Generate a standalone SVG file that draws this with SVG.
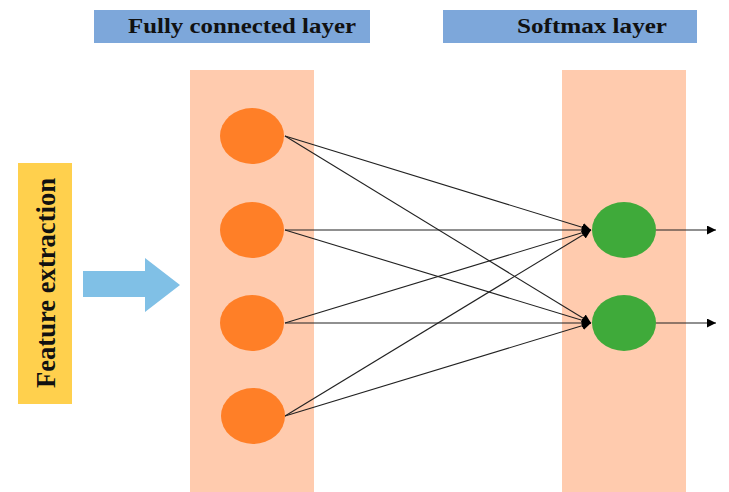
<svg xmlns="http://www.w3.org/2000/svg" width="729" height="492" viewBox="0 0 729 492">
  <style>
    .title { fill: #7DA7DA; }
    .title-text { font-family: "Liberation Serif", "DejaVu Serif", serif; font-weight: bold; font-size: 20px; fill: #111; }
    .column { fill: #FFCBAE; }
    .hidden { fill: #FF7F27; }
    .out { fill: #3FAA3A; }
    .edge { stroke: #222; stroke-width: 1.1; fill: none; marker-end: url(#head); }
  </style>
  <defs>
    <marker id="head" viewBox="0 0 10 10" refX="10" refY="5" markerWidth="9" markerHeight="9" markerUnits="userSpaceOnUse" orient="auto">
      <path d="M0,0 L10,5 L0,10 Z" fill="#000"/>
    </marker>
  </defs>
  <rect width="729" height="492" fill="#fff"/>

  <!-- layer headers -->
  <g id="header-fc">
    <rect class="title" x="94" y="10" width="276" height="33"/>
    <text class="title-text" x="242" y="33" text-anchor="middle" textLength="228" lengthAdjust="spacingAndGlyphs">Fully connected layer</text>
  </g>
  <g id="header-softmax">
    <rect class="title" x="443" y="10" width="254" height="33"/>
    <text class="title-text" x="592" y="33" text-anchor="middle" textLength="150" lengthAdjust="spacingAndGlyphs">Softmax layer</text>
  </g>

  <!-- layer backgrounds -->
  <rect class="column" x="190" y="70" width="124" height="422"/>
  <rect class="column" x="562" y="70" width="124" height="422"/>

  <!-- input block -->
  <g id="feature-extraction">
    <rect x="18" y="163" width="54" height="241" fill="#FFD04D"/>
    <text transform="translate(55,283) rotate(-90)" text-anchor="middle" font-family="Liberation Serif, DejaVu Serif, serif" font-weight="bold" font-size="28" fill="#111" textLength="210" lengthAdjust="spacingAndGlyphs">Feature extraction</text>
  </g>
  <g id="input-arrow">
    <path d="M83,271 L145,271 L145,258 L180,285 L145,312 L145,297 L83,297 Z" fill="#80C0E6"/>
  </g>

  <!-- connectors -->
  <g id="connectors">
    <line class="edge" x1="285" y1="136" x2="591" y2="230"/>
    <line class="edge" x1="285" y1="136" x2="591" y2="323"/>
    <line class="edge" x1="285" y1="230" x2="591" y2="230"/>
    <line class="edge" x1="285" y1="230" x2="591" y2="323"/>
    <line class="edge" x1="285" y1="323" x2="591" y2="230"/>
    <line class="edge" x1="285" y1="323" x2="591" y2="323"/>
    <line class="edge" x1="285" y1="416" x2="591" y2="230"/>
    <line class="edge" x1="285" y1="416" x2="591" y2="323"/>
    <line class="edge" x1="656" y1="230" x2="716" y2="230"/>
    <line class="edge" x1="656" y1="323" x2="716" y2="323"/>
  </g>

  <!-- fully connected neurons -->
  <g id="fc1"><ellipse class="hidden" cx="252" cy="136" rx="32" ry="28"/></g>
  <g id="fc2"><ellipse class="hidden" cx="252" cy="230" rx="32" ry="28"/></g>
  <g id="fc3"><ellipse class="hidden" cx="252" cy="323" rx="32" ry="28"/></g>
  <g id="fc4"><ellipse class="hidden" cx="253" cy="416" rx="32" ry="28"/></g>

  <!-- softmax neurons -->
  <g id="sm1"><ellipse class="out" cx="624" cy="230" rx="32" ry="28"/></g>
  <g id="sm2"><ellipse class="out" cx="624" cy="323" rx="32" ry="28"/></g>
</svg>
